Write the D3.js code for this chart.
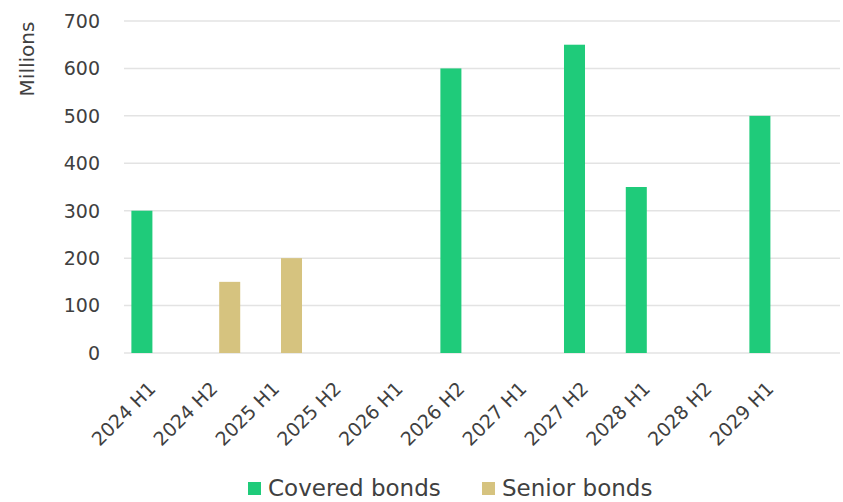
<!DOCTYPE html>
<html>
<head>
<meta charset="utf-8">
<script src="https://cdn.jsdelivr.net/npm/d3@7"></script>
<style>
  body { margin: 0; background: #fff; }
  text { font-family: "DejaVu Sans", sans-serif; fill: #404040; }
</style>
</head>
<body>
<script>
const categories = ["2024 H1", "2024 H2", "2025 H1", "2025 H2", "2026 H1", "2026 H2",
  "2027 H1", "2027 H2", "2028 H1", "2028 H2", "2029 H1"];
const seriesNames = ["Covered bonds", "Senior bonds"];
const coveredBonds = [300, 0, 0, 0, 0, 600, 0, 650, 350, 0, 500];
const seniorBonds = [0, 150, 200, 0, 0, 0, 0, 0, 0, 0, 0];
const yTicks = [0, 100, 200, 300, 400, 500, 600, 700];
const colors = ["#1fcb7a", "#d6c37f"];

const W = 843, H = 502;
const svg = d3.select("body").append("svg")
  .attr("width", W)
  .attr("height", H);

const left = 124, step = 61.8, gridRight = 840;

const x0 = d3.scaleBand()
  .domain(categories)
  .range([left, left + step * categories.length]);

const x1 = d3.scaleBand()
  .domain(seriesNames)
  .range([0, x0.bandwidth()])
  .paddingInner(0.192)
  .paddingOuter(0.284);

const y = d3.scaleLinear()
  .domain([0, 700])
  .range([353, 21]);

// gridlines
svg.append("g")
  .selectAll("line")
  .data(yTicks)
  .join("line")
    .attr("x1", left)
    .attr("x2", gridRight)
    .attr("y1", d => y(d))
    .attr("y2", d => y(d))
    .attr("stroke", "#e3e3e3")
    .attr("stroke-width", 1.5);

// y axis labels
svg.append("g")
  .selectAll("text")
  .data(yTicks)
  .join("text")
    .attr("x", 100)
    .attr("y", d => y(d))
    .attr("dy", "0.36em")
    .attr("text-anchor", "end")
    .style("font-size", "19px")
    .text(d => d);

svg.append("text")
  .attr("transform", "translate(34,59) rotate(-90)")
  .attr("text-anchor", "middle")
  .style("font-size", "20px")
  .text("Millions");

// bars
const rows = categories.map((c, i) => ({ cat: c, vals: [coveredBonds[i], seniorBonds[i]] }));
const groups = svg.append("g")
  .selectAll("g")
  .data(rows)
  .join("g")
    .attr("transform", d => "translate(" + x0(d.cat) + ",0)");

groups.selectAll("rect")
  .data(d => d.vals.map((v, j) => ({ key: seriesNames[j], v: v, j: j })).filter(d => d.v > 0))
  .join("rect")
    .attr("x", d => x1(d.key))
    .attr("width", x1.bandwidth())
    .attr("y", d => y(d.v))
    .attr("height", d => y(0) - y(d.v))
    .attr("fill", d => colors[d.j]);

// x labels
svg.append("g")
  .selectAll("text")
  .data(categories)
  .join("text")
    .attr("transform", d => "translate(" + (x0(d) + x0.bandwidth() / 2 + 2) + ",390) rotate(-45)")
    .attr("text-anchor", "end")
    .style("font-size", "19px")
    .text(d => d);

// legend
const legendX = [248, 482];
const legend = svg.append("g")
  .selectAll("g")
  .data(seriesNames)
  .join("g")
    .attr("transform", (d, i) => "translate(" + legendX[i] + ",482)");

legend.append("rect")
  .attr("width", 13)
  .attr("height", 13)
  .attr("fill", (d, i) => colors[i]);

legend.append("text")
  .attr("x", 20)
  .attr("y", 14)
  .style("font-size", "23px")
  .text(d => d);
</script>
</body>
</html>
